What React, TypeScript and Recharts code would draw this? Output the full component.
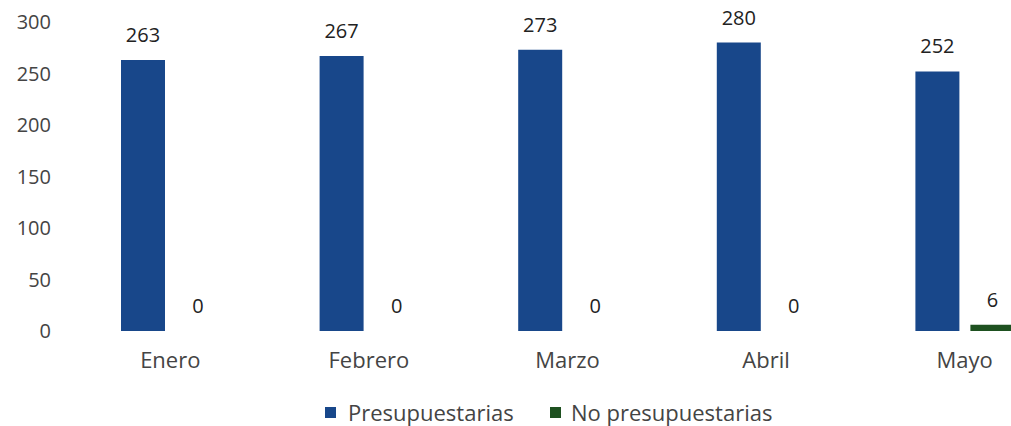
import React from 'react';
import { BarChart, Bar, XAxis, YAxis, LabelList, Legend } from 'recharts';

const categories = ['Enero', 'Febrero', 'Marzo', 'Abril', 'Mayo'];
const presupuestarias = [263, 267, 273, 280, 252];
const noPresupuestarias = [0, 0, 0, 0, 6];
const yTicks = [0, 50, 100, 150, 200, 250, 300];

const BLUE = '#18478a';
const GREEN = '#1e5120';
const FONT = '"Open Sans", sans-serif';

const data = categories.map((c, i) => ({
  mes: c,
  presupuestarias: presupuestarias[i],
  noPresupuestarias: noPresupuestarias[i],
}));

const LegendContent = () => (
  <div style={{ position: 'relative', width: 480, height: 26, fontFamily: FONT, fontSize: 22, color: '#444' }}>
    <div style={{ position: 'absolute', left: 1, top: 0, display: 'flex', alignItems: 'center', height: 26 }}>
      <span style={{ display: 'inline-block', width: 11, height: 11, background: BLUE, marginRight: 12 }} />
      <span>Presupuestarias</span>
    </div>
    <div style={{ position: 'absolute', left: 226, top: 0, display: 'flex', alignItems: 'center', height: 26 }}>
      <span style={{ display: 'inline-block', width: 11, height: 11, background: GREEN, marginRight: 10 }} />
      <span>No presupuestarias</span>
    </div>
  </div>
);

export default function App() {
  return (
    <div style={{ position: 'fixed', left: 0, top: 0, width: 1011, height: 426, overflow: 'hidden', background: '#fff' }}>
      <BarChart
        width={1070}
        height={426}
        data={data}
        margin={{ top: 22, right: 6, left: 1, bottom: 65 }}
        barSize={44}
        barGap={11}
      >
        <XAxis
          dataKey="mes"
          axisLine={false}
          tickLine={false}
          tickMargin={15}
          height={30}
          tick={{ fontFamily: FONT, fontSize: 22, fill: '#444' }}
        />
        <YAxis
          domain={[0, 300]}
          ticks={yTicks}
          axisLine={false}
          tickLine={false}
          tickMargin={14}
          width={70}
          tick={{ fontFamily: FONT, fontSize: 20, fill: '#444' }}
        />
        <Legend
          layout="horizontal"
          verticalAlign="middle"
          align="center"
          wrapperStyle={{ top: 399, left: 324, width: 480, height: 26 }}
          content={() => <LegendContent />}
        />
        <Bar dataKey="presupuestarias" name="Presupuestarias" fill={BLUE} isAnimationActive={false}>
          <LabelList dataKey="presupuestarias" position="top" offset={18} style={{ fontFamily: FONT, fontSize: 20, fill: '#222' }} />
        </Bar>
        <Bar dataKey="noPresupuestarias" name="No presupuestarias" fill={GREEN} minPointSize={0.01} isAnimationActive={false}>
          <LabelList dataKey="noPresupuestarias" position="top" offset={18} style={{ fontFamily: FONT, fontSize: 20, fill: '#222' }} />
        </Bar>
      </BarChart>
    </div>
  );
}
